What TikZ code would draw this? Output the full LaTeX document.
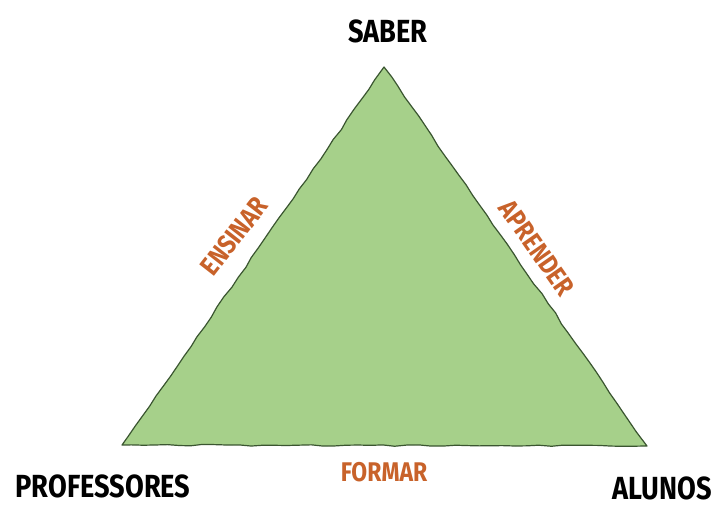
\documentclass[tikz,border=0pt]{standalone}
\usepackage{fontspec}
\setmainfont{Fira Sans}[FakeStretch=0.85]
\usetikzlibrary{decorations.pathmorphing}
\definecolor{tfill}{HTML}{A6D08A}
\definecolor{tline}{HTML}{3A5530}
\definecolor{lorange}{HTML}{C8622A}
\tikzset{
  vertexlabel/.style={font=\bfseries\fontsize{32}{33}\selectfont, text=black, inner sep=0pt},
  edgelabel/.style={font=\bfseries\fontsize{27}{28}\selectfont, text=lorange, inner sep=0pt},
  tri/.style={fill=tfill, draw=tline, line width=1.2pt, line join=round,
    decorate, decoration={random steps, segment length=12pt, amplitude=0.8pt}}
}
\begin{document}
\begin{tikzpicture}[x=1pt,y=-1pt]
\useasboundingbox (0,0) rectangle (719,504);
\coordinate (apex) at (384,67);
\coordinate (bl) at (122,445);
\coordinate (br) at (647,446);
\draw[tri] (apex) -- (br) -- (bl) -- cycle;
\node[vertexlabel] (saber) at (388,31) {SABER};
\node[vertexlabel] (prof) at (103,486) {PROFESSORES};
\node[vertexlabel] (alunos) at (662,488) {ALUNOS};
\node[edgelabel] (formar) at (384,472) {FORMAR};
\node[edgelabel, rotate=52] (ensinar) at (234,236) {ENSINAR};
\node[edgelabel, rotate=-55] (aprender) at (537,248) {APRENDER};
\end{tikzpicture}
\end{document}
